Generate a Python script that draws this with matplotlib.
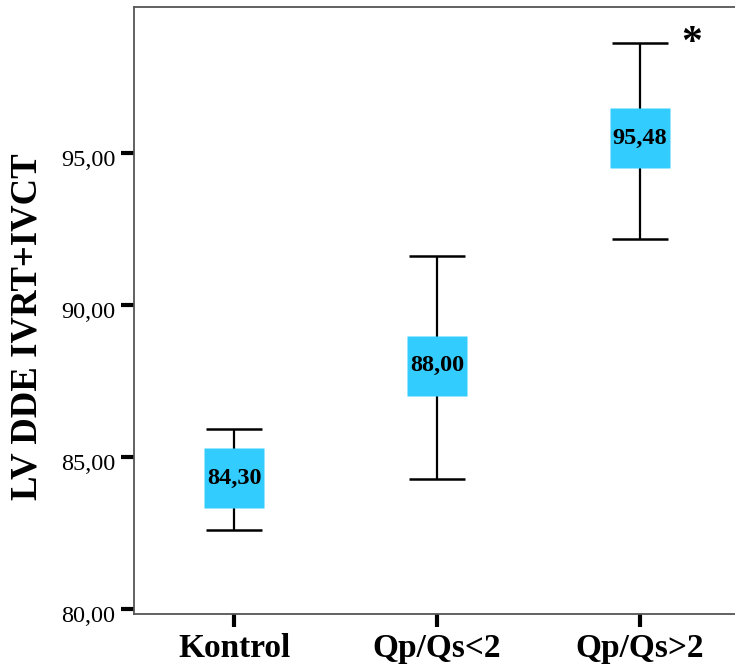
import matplotlib
matplotlib.use("Agg")
import matplotlib.pyplot as plt
import matplotlib.transforms as mtransforms
import numpy as np

categories = ["Kontrol", "Qp/Qs<2", "Qp/Qs>2"]
means = [84.30, 88.00, 95.48]
lower = [82.60, 84.27, 92.17]
upper = [85.93, 91.62, 98.63]
mean_labels = ["84,30", "88,00", "95,48"]
yticks = [80, 85, 90, 95]
ytick_labels = ["80,00", "85,00", "90,00", "95,00"]
ylabel = "LV DDE IVRT+IVCT"

plt.rcParams['font.family'] = ['Liberation Serif', 'DejaVu Serif']

W, H = 735, 672
fig = plt.figure(figsize=(W/100, H/100), dpi=100)
left, right, top, bottom = 134, 735, 7, 614
ax = fig.add_axes([left/W, 1-bottom/H, (right-left)/W, (bottom-top)/H])

x = np.arange(1, len(categories)+1)
means_a = np.array(means)
yerr = [means_a-np.array(lower), np.array(upper)-means_a]
ax.errorbar(x, means, yerr=yerr, fmt='none', ecolor='black', elinewidth=1.6,
            capsize=20, capthick=1.8, zorder=2)
ax.plot(x, means, linestyle='none', marker='s', markersize=42.5,
        markerfacecolor='#33CCFF', markeredgecolor='none', zorder=3)
for xi, m, lab in zip(x, means, mean_labels):
    ax.text(xi, m, lab, ha='center', va='center', fontsize=17.5, fontweight='bold', zorder=4)

ax.annotate("*", xy=(x[-1], upper[-1]), xytext=(37, -1), textcoords='offset points',
            ha='center', va='center', fontsize=30, fontweight='bold')

ax.set_xlim(0.507, 3.468)
ax.set_ylim(79.84, 99.80)
ax.set_xticks(x)
ax.set_xticklabels(categories, fontsize=24, fontweight='bold')
ax.set_yticks(yticks)
ax.set_yticklabels(ytick_labels, fontsize=17.5)
ax.tick_params(axis='y', direction='out', length=9.5, width=3, pad=4, color='black')
ax.tick_params(axis='x', direction='out', length=9, width=3, pad=5, color='black')
shift = mtransforms.ScaledTranslation(0, -5/100, fig.dpi_scale_trans)
for lab in ax.get_yticklabels():
    lab.set_transform(lab.get_transform() + shift)
for s in ['left', 'bottom', 'top']:
    ax.spines[s].set_color('#555555')
    ax.spines[s].set_linewidth(1.3)
ax.spines['right'].set_visible(False)
ax.set_ylabel(ylabel, fontsize=26.5, fontweight='bold', labelpad=12)
ax.yaxis.label.set_y(0.473)

fig.savefig("out.png", dpi=100)
